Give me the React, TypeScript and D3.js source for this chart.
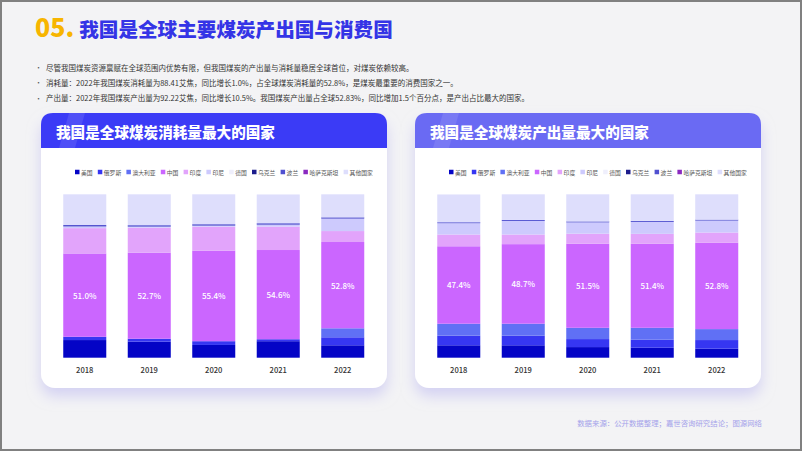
import React from 'react';
import * as d3 from 'd3';

// 数据（百分比，读自原图）
const years = ['2018', '2019', '2020', '2021', '2022'];
const countries = ['美国', '俄罗斯', '澳大利亚', '中国', '印度', '印尼', '德国', '乌克兰', '波兰', '哈萨克斯坦', '其他国家'];
const colors = ['#0404c6', '#3636f2', '#6070f5', '#cb66ff', '#e2a4fb', '#cdcafd', '#efeffc', '#1c1c8c', '#5050d0', '#8a2ac0', '#dedefc'];

// 消耗量占比
const consUS = [10.8, 9.8, 7.8, 10.1, 7.6];
const consRU = [2.0, 1.8, 2.3, 1.2, 4.9];
const consAU = [0, 0, 0, 0, 5.5];
const consCN = [51.0, 52.7, 55.4, 54.6, 52.8];
const consIN = [15.5, 15.3, 14.7, 14.3, 6.7];
const consID = [1.0, 0.6, 0.6, 1.2, 7.6];
const consDE = [0, 0, 0, 0, 0];
const consUA = [0, 0, 0, 0, 0];
const consPL = [0.9, 0.9, 0.9, 0.9, 0.8];
const consKZ = [0, 0, 0, 0, 0];
const consOther = [18.8, 18.9, 18.3, 17.6, 14.1];

// 产出量占比
const prodUS = [7.6, 7.6, 6.5, 6.1, 5.5];
const prodRU = [5.9, 5.9, 4.9, 4.9, 5.3];
const prodAU = [7.3, 7.3, 6.9, 7.3, 6.7];
const prodCN = [47.4, 48.7, 51.5, 51.4, 52.8];
const prodIN = [7.2, 5.9, 6.1, 6.1, 6.3];
const prodID = [6.9, 8.3, 6.9, 7.3, 7.3];
const prodDE = [0, 0, 0, 0, 0];
const prodUA = [0, 0, 0, 0, 0];
const prodPL = [0.6, 0.6, 0.6, 0.6, 0.6];
const prodKZ = [0, 0, 0, 0, 0];
const prodOther = [17.0, 15.7, 16.6, 16.3, 15.5];

const bullets = [
  '尽管我国煤炭资源禀赋在全球范围内优势有限，但我国煤炭的产出量与消耗量稳居全球首位，对煤炭依赖较高。',
  '消耗量：2022年我国煤炭消耗量为88.41艾焦，同比增长1.0%，占全球煤炭消耗量的52.8%，是煤炭最重要的消费国家之一。',
  '产出量：2022年我国煤炭产出量为92.22艾焦，同比增长10.5%。我国煤炭产出量占全球52.83%，同比增加1.5个百分点，是产出占比最大的国家。',
];

const FONT = '"Noto Sans CJK SC", "Noto Sans", sans-serif';
const W = 802;
const H = 451;

const toRows = (series: number[][]) =>
  years.map((y, i) => {
    const row: Record<string, any> = { year: y };
    countries.forEach((c, k) => (row[c] = series[k][i]));
    return row;
  });

const consRows = toRows([consUS, consRU, consAU, consCN, consIN, consID, consDE, consUA, consPL, consKZ, consOther]);
const prodRows = toRows([prodUS, prodRU, prodAU, prodCN, prodIN, prodID, prodDE, prodUA, prodPL, prodKZ, prodOther]);

const color = d3.scaleOrdinal<string, string>().domain(countries).range(colors);

const CARD_W = 346;
const CARD_H = 275;
const HEAD_H = 35;

const Card = ({ x, y, title, headColor, rows, id }: any) => {
  const xScale = d3.scaleBand().domain(years).range([11.5, 334]).paddingInner(0.333).paddingOuter(0.1667);
  const yScale = d3.scaleLinear().domain([0, 100]).range([244.7, 81.3]);
  const series = d3.stack().keys(countries)(rows as any);

  // 图例布局
  const fs = 5.8;
  let lx = 34;
  const legend = countries.map((c) => {
    const item = { c, x: lx };
    lx += 4.5 + 1.5 + c.length * fs + 5.2;
    return item;
  });

  const r = 12;
  const headPath = `M0,${HEAD_H} L0,${r} Q0,0 ${r},0 L${CARD_W - r},0 Q${CARD_W},0 ${CARD_W},${r} L${CARD_W},${HEAD_H} Z`;

  return (
    <g transform={`translate(${x},${y})`}>
      <rect width={CARD_W} height={CARD_H} rx={14} fill="#fff" filter={`url(#shadow)`} />
      <path d={headPath} fill={headColor} />
      <polygon points={`28,0 44,0 34,${HEAD_H} 18,${HEAD_H}`} fill="#fff" opacity={0.1} />
      <text x={15} y={18} dominantBaseline="central" fill="#fff" fontSize={14.6} fontWeight={900} fontFamily={FONT}>
        {title}
      </text>
      {legend.map((l) => (
        <g key={l.c} transform={`translate(${l.x},59)`}>
          <rect x={0} y={-2.25} width={4.5} height={4.5} fill={color(l.c)} />
          <text x={6} y={0} dominantBaseline="central" fontSize={fs} fill="#555" fontFamily={FONT}>
            {l.c}
          </text>
        </g>
      ))}
      {series.map((s) => (
        <g key={s.key} fill={color(s.key)}>
          {s.map((d: any) => (
            <rect
              key={d.data.year}
              x={xScale(d.data.year)}
              width={xScale.bandwidth()}
              y={yScale(d[1])}
              height={Math.max(0, yScale(d[0]) - yScale(d[1]))}
            />
          ))}
        </g>
      ))}
      {series
        .filter((s) => s.key === '中国')
        .map((s) =>
          s.map((d: any) => (
            <text
              key={`lab-${id}-${d.data.year}`}
              x={(xScale(d.data.year) as number) + xScale.bandwidth() / 2}
              y={(yScale(d[0]) + yScale(d[1])) / 2}
              textAnchor="middle"
              dominantBaseline="central"
              fill="#fff"
              fontSize={8}
              fontWeight={500}
              fontFamily={FONT}
            >
              {`${d.data['中国'].toFixed(1)}%`}
            </text>
          ))
        )}
      {years.map((yr) => (
        <text
          key={`yr-${yr}`}
          x={(xScale(yr) as number) + xScale.bandwidth() / 2}
          y={256}
          textAnchor="middle"
          dominantBaseline="central"
          fill="#333"
          fontSize={7.6}
          fontWeight={500}
          fontFamily={FONT}
        >
          {yr}
        </text>
      ))}
    </g>
  );
};

export default function App() {
  return (
    <div style={{ position: 'fixed', left: 0, top: 0 }}>
      <svg width={W} height={H} style={{ display: 'block' }}>
        <defs>
          <filter id="shadow" x="-10%" y="-10%" width="120%" height="130%">
            <feDropShadow dx={0} dy={8} stdDeviation={7} floodColor="#b9b6f0" floodOpacity={0.55} />
          </filter>
        </defs>
        <rect width={W} height={H} fill="#f3f3f5" />
        <text x={35} y={37} fontFamily={FONT} fontWeight={900}>
          <tspan fill="#f7b500" fontSize={25}>05.</tspan>
          <tspan fill="#3434e6" fontSize={19.6} dx={5}>我国是全球主要煤炭产出国与消费国</tspan>
        </text>
        {bullets.map((b, i) => (
          <g key={i} transform={`translate(0,${67 + i * 15.3})`}>
            <text x={35} y={0} dominantBaseline="central" fontSize={7} fill="#555" fontFamily={FONT}>•</text>
            <text x={46} y={0} dominantBaseline="central" fontSize={7.5} fill="#333" fontFamily={FONT}>
              {b}
            </text>
          </g>
        ))}
        <Card x={41} y={113} id="c" title="我国是全球煤炭消耗量最大的国家" headColor="#3b3bf6" rows={consRows} />
        <Card x={415} y={113} id="p" title="我国是全球煤炭产出量最大的国家" headColor="#6a6af3" rows={prodRows} />
        <text x={762} y={422} textAnchor="end" dominantBaseline="central" fontSize={7.4} fill="#a4a2ea" fontFamily={FONT}>
          数据来源：公开数据整理；嘉世咨询研究结论；图源网络
        </text>
        <rect x={1} y={1} width={W - 2} height={H - 2} fill="none" stroke="#808080" strokeWidth={2} />
      </svg>
    </div>
  );
}
